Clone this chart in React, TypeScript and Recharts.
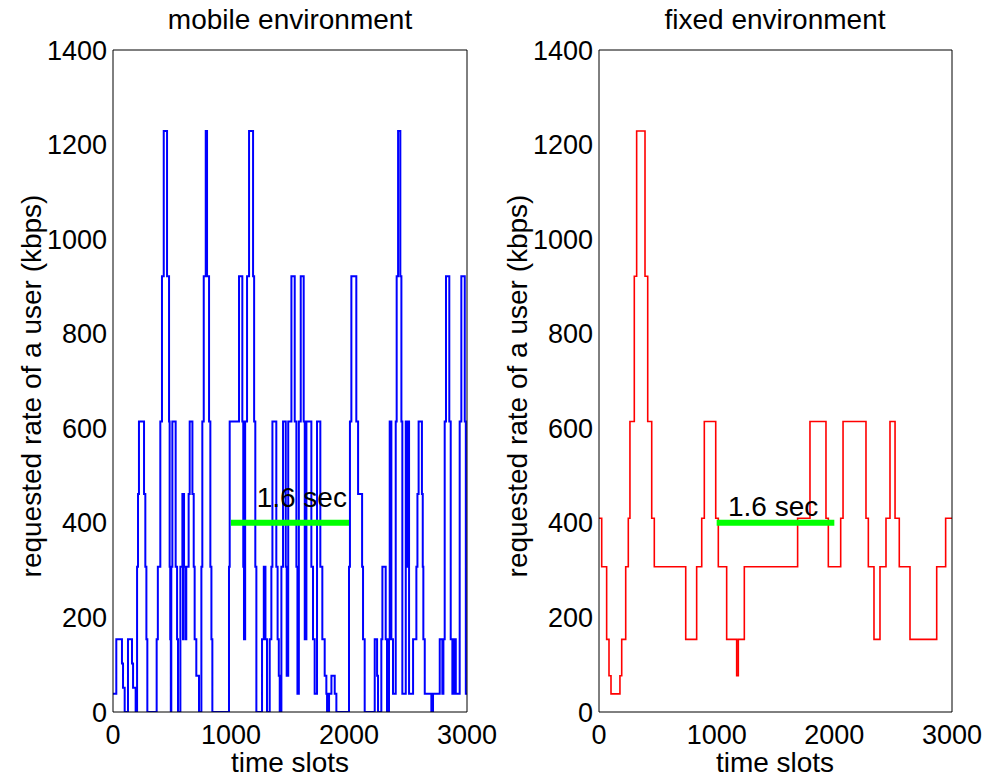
import React from "react";
import { Line, LineChart, ReferenceDot, XAxis, YAxis } from "recharts";

// step points: time slot where the requested rate changes, and the new rate (kbps)
const mobileSlots = [
  0, 28, 76, 85, 99, 127, 161, 170, 192, 204, 212, 220, 263, 274, 283, 291, 370, 380, 401, 415,
  430, 458, 475, 480, 485, 490, 494, 503, 531, 543, 551, 571, 588, 593, 597, 602, 616, 621, 641,
  650, 673, 684, 692, 706, 729, 749, 757, 769, 786, 797, 814, 825, 834, 842, 983, 989, 1068,
  1096, 1104, 1110, 1120, 1136, 1153, 1187, 1196, 1206, 1215, 1263, 1278, 1292, 1305, 1328,
  1342, 1351, 1384, 1395, 1405, 1413, 1427, 1441, 1464, 1472, 1485, 1512, 1540, 1554, 1563,
  1575, 1591, 1616, 1625, 1639, 1681, 1695, 1709, 1729, 1757, 1774, 1794, 1808, 1814, 1831,
  1851, 1879, 1893, 2000, 2008, 2020, 2062, 2077, 2111, 2119, 2133, 2218, 2238, 2246, 2274,
  2283, 2311, 2322, 2339, 2345, 2359, 2373, 2396, 2404, 2416, 2435, 2444, 2452, 2481, 2490,
  2495, 2509, 2543, 2571, 2580, 2590, 2618, 2625, 2630, 2642, 2698, 2712, 2769, 2791, 2800,
  2811, 2822, 2850, 2862, 2876, 2890, 2905, 2938, 2952, 2981, 2990, 3000,
];
const mobileRate = [
  38.4, 153.6, 102.4, 51.2, 0, 153.6, 102.4, 51.2, 0, 307.2, 460.8, 614.4, 460.8, 307.2, 153.6, 0,
  153.6, 307.2, 614.4, 921.6, 1228.8, 921.6, 614.4, 307.2, 153.6, 0, 307.2, 614.4, 307.2, 153.6,
  0, 307.2, 460.8, 153.6, 460.8, 307.2, 153.6, 307.2, 460.8, 614.4, 460.8, 307.2, 153.6, 76.8, 0,
  307.2, 614.4, 921.6, 1228.8, 921.6, 614.4, 307.2, 153.6, 0, 307.2, 614.4, 921.6, 614.4, 307.2,
  153.6, 614.4, 921.6, 1228.8, 921.6, 614.4, 307.2, 0, 153.6, 307.2, 153.6, 0, 153.6, 307.2,
  614.4, 307.2, 153.6, 76.8, 0, 307.2, 614.4, 307.2, 76.8, 614.4, 921.6, 614.4, 307.2, 38.4,
  614.4, 921.6, 614.4, 153.6, 614.4, 307.2, 153.6, 38.4, 614.4, 307.2, 153.6, 76.8, 38.4, 0,
  38.4, 76.8, 38.4, 0, 307.2, 614.4, 921.6, 614.4, 460.8, 307.2, 153.6, 0, 153.6, 76.8, 0, 153.6,
  307.2, 153.6, 0, 153.6, 614.4, 153.6, 38.4, 614.4, 921.6, 1228.8, 921.6, 614.4, 38.4, 614.4,
  307.2, 614.4, 38.4, 153.6, 307.2, 460.8, 614.4, 460.8, 307.2, 153.6, 38.4, 0, 38.4, 153.6,
  38.4, 153.6, 614.4, 921.6, 614.4, 153.6, 38.4, 153.6, 38.4, 614.4, 921.6, 614.4, 38.4, 38.4,
];

const fixedSlots = [
  0, 23, 65, 85, 102, 178, 193, 227, 249, 263, 300, 320, 391, 414, 448, 470, 737, 830, 873, 895,
  992, 1014, 1085, 1170, 1184, 1235, 1688, 1793, 1929, 1949, 2054, 2074, 2269, 2289, 2337, 2388,
  2439, 2473, 2516, 2552, 2643, 2870, 2946, 3000,
];
const fixedRate = [
  409.6, 307.2, 153.6, 76.8, 38.4, 76.8, 153.6, 307.2, 409.6, 614.4, 921.6, 1228.8, 921.6, 614.4,
  409.6, 307.2, 153.6, 307.2, 409.6, 614.4, 409.6, 307.2, 153.6, 76.8, 153.6, 307.2, 409.6, 614.4,
  409.6, 307.2, 409.6, 614.4, 409.6, 307.2, 153.6, 307.2, 409.6, 614.4, 409.6, 307.2, 153.6, 307.2,
  409.6, 409.6,
];

const markerSlots = [1000, 2000];
const markerRate = [400, 400];

const xTicks = [0, 1000, 2000, 3000];
const yTicks = [0, 200, 400, 600, 800, 1000, 1200, 1400];

const FONT = "'Liberation Sans', Arial, Helvetica, sans-serif";

const mobileData = mobileSlots.map((t, i) => ({ t, rate: mobileRate[i] }));
const fixedData = fixedSlots.map((t, i) => ({ t, rate: fixedRate[i] }));
const markerData = markerSlots.map((t, i) => ({ t, mark: markerRate[i] }));

const tickStyle = { fontSize: 27, fill: "#000", fontFamily: FONT };
const axisLine = { stroke: "#000", strokeWidth: 1 };

function RatePanel({
  data,
  color,
  lineWidth,
  labelAt,
  width,
  margin,
}: {
  data: { t: number; rate: number }[];
  color: string;
  lineWidth: number;
  labelAt: [number, number];
  width: number;
  margin: { top: number; right: number; bottom: number; left: number };
}) {
  return (
    <LineChart width={width} height={778} data={data} margin={margin}>
      <XAxis
        xAxisId="x"
        dataKey="t"
        type="number"
        domain={[0, 3000]}
        ticks={xTicks}
        allowDataOverflow
        height={40}
        tickLine={false}
        tickSize={4}
        tickMargin={9}
        axisLine={axisLine}
        tick={tickStyle}
      />
      <XAxis
        xAxisId="xin"
        dataKey="t"
        type="number"
        domain={[0, 3000]}
        ticks={xTicks}
        allowDataOverflow
        mirror
        tick={false}
        tickSize={6}
        axisLine={false}
        tickLine={axisLine}
      />
      <XAxis
        xAxisId="xtop"
        dataKey="t"
        orientation="top"
        type="number"
        domain={[0, 3000]}
        ticks={xTicks}
        allowDataOverflow
        mirror
        tick={false}
        tickSize={6}
        axisLine={axisLine}
        tickLine={axisLine}
      />
      <YAxis
        yAxisId="y"
        type="number"
        domain={[0, 1400]}
        ticks={yTicks}
        allowDataOverflow
        width={60}
        tickLine={false}
        tickSize={4}
        tickMargin={2}
        axisLine={axisLine}
        tick={tickStyle}
      />
      <YAxis
        yAxisId="yin"
        type="number"
        domain={[0, 1400]}
        ticks={yTicks}
        allowDataOverflow
        mirror
        tick={false}
        tickSize={6}
        axisLine={false}
        tickLine={axisLine}
      />
      <YAxis
        yAxisId="yright"
        orientation="right"
        type="number"
        domain={[0, 1400]}
        ticks={yTicks}
        allowDataOverflow
        mirror
        tick={false}
        tickSize={6}
        axisLine={axisLine}
        tickLine={axisLine}
      />
      <Line
        xAxisId="x"
        yAxisId="y"
        type="stepAfter"
        dataKey="rate"
        stroke={color}
        strokeWidth={lineWidth}
        dot={false}
        activeDot={false}
        isAnimationActive={false}
      />
      <Line
        xAxisId="x"
        yAxisId="y"
        data={markerData}
        type="linear"
        dataKey="mark"
        stroke="#00ff00"
        strokeWidth={6}
        dot={false}
        activeDot={false}
        isAnimationActive={false}
      />
      <ReferenceDot
        xAxisId="x"
        yAxisId="y"
        x={labelAt[0]}
        y={labelAt[1]}
        r={0}
        fill="none"
        stroke="none"
        label={{ value: "1.6 sec", position: "center", fontSize: 28, fill: "#000", fontFamily: FONT }}
      />
    </LineChart>
  );
}

const textStyle: React.CSSProperties = { fontFamily: FONT, fontSize: 28, fill: "#000" };

export default function App() {
  return (
    <div style={{ position: "absolute", left: 0, top: 0, width: 987, height: 778, background: "#fff" }}>
      <div style={{ position: "absolute", left: 0, top: 0 }}>
        <RatePanel
          data={mobileData}
          color="#0000ff"
          lineWidth={2}
          labelAt={[1600, 455]}
          width={520}
          margin={{ top: 50, right: 53, bottom: 26, left: 53 }}
        />
      </div>
      <div style={{ position: "absolute", left: 487, top: 0 }}>
        <RatePanel
          data={fixedData}
          color="#ff0000"
          lineWidth={1.6}
          labelAt={[1480, 436]}
          width={500}
          margin={{ top: 50, right: 35, bottom: 26, left: 52 }}
        />
      </div>
      <svg
        width={987}
        height={778}
        style={{ position: "absolute", left: 0, top: 0, pointerEvents: "none" }}
      >
        <text x={290} y={29} textAnchor="middle" style={textStyle}>
          mobile environment
        </text>
        <text x={775} y={29} textAnchor="middle" style={textStyle}>
          fixed environment
        </text>
        <text x={290} y={772} textAnchor="middle" style={textStyle}>
          time slots
        </text>
        <text x={775} y={772} textAnchor="middle" style={textStyle}>
          time slots
        </text>
        <text x={41} y={386} textAnchor="middle" transform="rotate(-90 41 386)" style={textStyle}>
          requested rate of a user (kbps)
        </text>
        <text x={527} y={386} textAnchor="middle" transform="rotate(-90 527 386)" style={textStyle}>
          requested rate of a user (kbps)
        </text>
      </svg>
    </div>
  );
}
